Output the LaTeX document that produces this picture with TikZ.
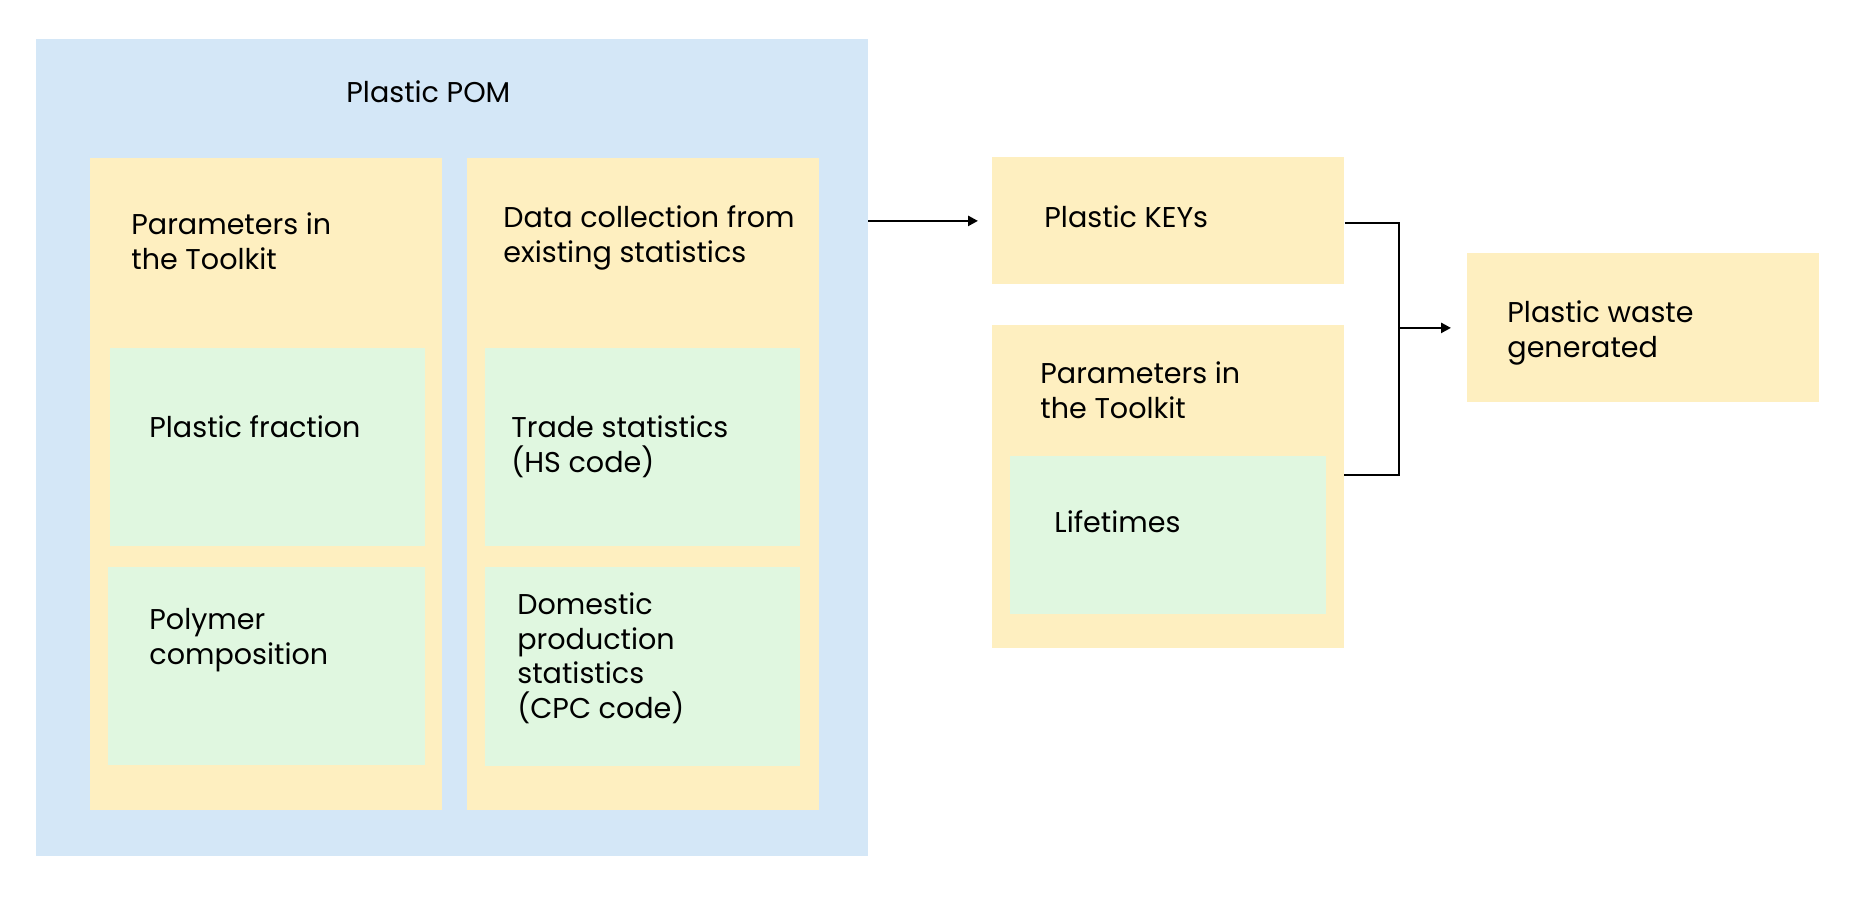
\documentclass[tikz,border=0pt]{standalone}
\usepackage{fontspec}
\setmainfont{Poppins}
\usetikzlibrary{arrows.meta}
\definecolor{pomblue}{HTML}{D4E7F7}
\definecolor{boxyellow}{HTML}{FEEFC0}
\definecolor{boxgreen}{HTML}{E0F7E0}
\tikzset{
  px/.style={x=0.5pt,y=-0.5pt},
  area/.style={fill=#1,draw=none},
  lbl/.style={anchor=base west,align=left,inner sep=0pt,font=\fontsize{14.3pt}{17.2pt}\selectfont,text=black},
  conn/.style={line width=1.3pt,black},
  arr/.style={conn,-{Triangle[length=5pt,width=5pt]}},
}
\begin{document}
\begin{tikzpicture}[px]
\useasboundingbox (0,0) rectangle (1855,899);
% containers
\fill[pomblue] (36,39) rectangle (868,856);
\coordinate (pomE) at (868,447);
\fill[boxyellow] (90,158) rectangle (442,810);
\fill[boxyellow] (467,158) rectangle (819,810);
\fill[boxgreen] (110,348) rectangle (425,546);
\fill[boxgreen] (108,567) rectangle (425,765);
\fill[boxgreen] (485,348) rectangle (800,546);
\fill[boxgreen] (485,567) rectangle (800,766);
% right side boxes
\node[area=boxyellow,minimum width=176pt,minimum height=63.5pt,anchor=north west,inner sep=0pt] (keys) at (992,157) {};
\fill[boxyellow] (992,325) rectangle (1344,648);
\coordinate (parE) at (1344,475);
\fill[boxgreen] (1010,456) rectangle (1326,614);
\node[area=boxyellow,minimum width=176pt,minimum height=74.5pt,anchor=north west,inner sep=0pt] (waste) at (1467,253) {};
% texts (base anchor = baseline of the last line)
\node[lbl] (tpom) at (346,103) {Plastic POM};
\node[lbl] (tpar1) at (131,269) {Parameters in\\the Toolkit};
\node[lbl] (tdata) at (503,262) {Data collection from\\existing statistics};
\node[lbl] (tpf) at (149,437) {Plastic fraction};
\node[lbl] (tpc) at (149,664) {Polymer\\composition};
\node[lbl] (tts) at (511,472) {Trade statistics\\(HS code)};
\node[lbl] (tdp) at (517,718) {Domestic\\production\\statistics\\(CPC code)};
\node[lbl] (tkeys) at (1044,227) {Plastic KEYs};
\node[lbl] (tpar2) at (1040,418) {Parameters in\\the Toolkit};
\node[lbl] (tlife) at (1054,532) {Lifetimes};
\node[lbl] (twaste) at (1507,357) {Plastic waste\\generated};
% connectors
\coordinate (busTop) at (1399,223);
\coordinate (busBot) at (1399,475);
\draw[arr] (pomE |- keys.west) -- ([xshift=-7pt]keys.west);
\draw[conn] (keys.east |- busTop) -- (busTop) -- (busBot) -- (parE);
\draw[arr] (busTop |- waste.west) -- ([xshift=-8pt]waste.west);
\end{tikzpicture}
\end{document}
